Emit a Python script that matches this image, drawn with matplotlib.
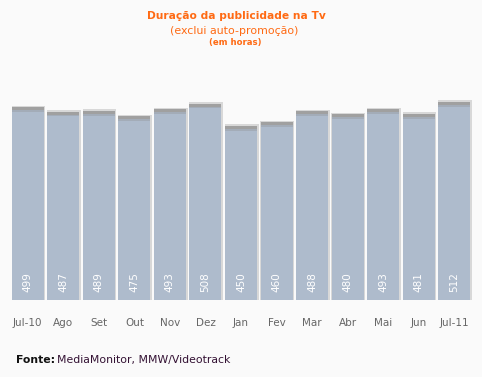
import matplotlib.pyplot as plt
import numpy as np

months = ["Jul-10", "Ago", "Set", "Out", "Nov", "Dez", "Jan", "Fev", "Mar", "Abr", "Mai", "Jun", "Jul-11"]
hours = [499, 487, 489, 475, 493, 508, 450, 460, 488, 480, 493, 481, 512]

bg = "#fafafa"
bar_color = "#aebbcc"
orange = "#ff6a13"

fig = plt.figure(figsize=(4.82, 3.77), dpi=100, facecolor=bg)
ax = fig.add_axes([10 / 482, 77 / 377, 462 / 482, 232 / 377])
ax.set_facecolor(bg)

x = np.arange(len(months))
h = np.array(hours)

# soft shadow behind each bar
ax.bar(x + 0.02, h + 4, width=0.95, color="#d8d8d8", zorder=1)
ax.bar(x, h, width=0.9, color=bar_color, zorder=2)
# darker cap on top
ax.bar(x, 8, bottom=h - 8, width=0.9, color="#a0a0a0", zorder=3)
ax.bar(x, 4, bottom=h - 12, width=0.9, color="#a3acb8", zorder=3)

for xi, v in zip(x, hours):
    ax.text(xi, 47, str(v), rotation=90, ha="center", va="center",
            color="white", fontsize=7.5, zorder=4)

ax.set_xlim(-0.5, len(months) - 0.5)
ax.set_ylim(0, 600)
ax.set_xticks(x)
ax.set_xticklabels(months, fontsize=7.5, color="#666666")
ax.tick_params(axis="x", length=0, pad=13)
ax.set_yticks([])
for s in ax.spines.values():
    s.set_visible(False)

fig.text(236 / 482, 1 - 16 / 377, "Duração da publicidade na Tv", ha="center", va="center",
         color=orange, fontsize=7.7, fontweight="bold")
fig.text(234 / 482, 1 - 31 / 377, "(exclui auto-promoção)", ha="center", va="center",
         color=orange, fontsize=7.9)
fig.text(235 / 482, 1 - 43 / 377, "(em horas)", ha="center", va="center",
         color=orange, fontsize=6.1, fontweight="bold")

fig.text(16 / 482, 1 - 360 / 377, "Fonte:", ha="left", va="center",
         color="#111111", fontsize=7.8, fontweight="bold")
fig.text(57 / 482, 1 - 360 / 377, "MediaMonitor, MMW/Videotrack", ha="left", va="center",
         color="#331133", fontsize=7.8)

fig.savefig("out.png", dpi=100, facecolor=bg)
